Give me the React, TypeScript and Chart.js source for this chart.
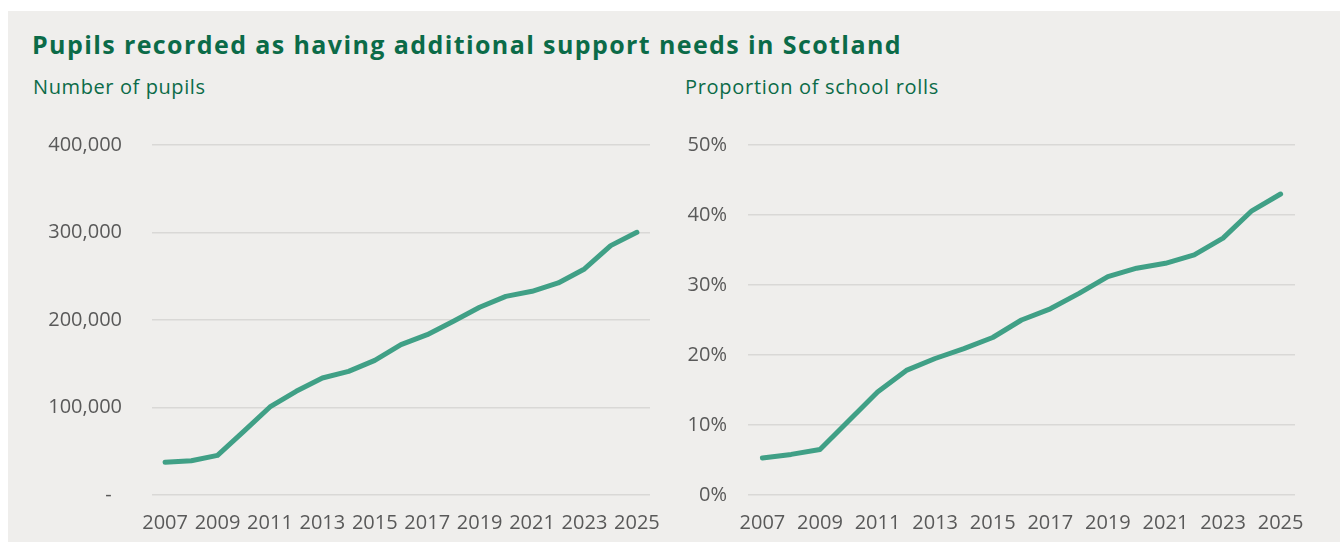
import React, { useEffect, useRef } from "react";
import { Chart, registerables } from "chart.js";
Chart.register(...registerables);

const years = ["2007","2008","2009","2010","2011","2012","2013","2014","2015","2016","2017","2018","2019","2020","2021","2022","2023","2024","2025"];
const pupils = [37300, 39200, 45300, 72800, 100600, 118500, 133700, 141300, 153900, 171800, 183200, 198500, 214500, 227000, 232800, 242300, 258300, 285000, 300200];
const proportion = [5.3, 5.8, 6.5, 10.6, 14.7, 17.8, 19.5, 20.9, 22.5, 25.0, 26.6, 28.8, 31.2, 32.4, 33.1, 34.3, 36.7, 40.6, 43.0];

const TITLE = "Pupils recorded as having additional support needs in Scotland";
const LEFT_SUB = "Number of pupils";
const RIGHT_SUB = "Proportion of school rolls";

const BG = "#efeeec";
const GREEN = "#0b6b48";
const LINE = "#40a086";
const GRID = "#d9d8d6";
const TICK = "#595959";
const FONT = "'Open Sans', sans-serif";

function makeConfig(data: number[], yMax: number, step: number, fmt: (v: number) => string, yWidth: number, yPad: number, padRight: number): any {
  return {
    type: "line",
    data: {
      labels: years,
      datasets: [{
        data,
        borderColor: LINE,
        borderWidth: 5,
        pointRadius: 0,
        tension: 0,
        borderCapStyle: "round",
        borderJoinStyle: "round",
      }],
    },
    options: {
      animation: false,
      responsive: false,
      maintainAspectRatio: false,
      layout: { padding: { left: 0, right: padRight, top: 25, bottom: 0 } },
      plugins: { legend: { display: false }, tooltip: { enabled: false }, title: { display: false } },
      scales: {
        x: {
          offset: true,
          grid: { display: false, drawTicks: false },
          border: { display: false },
          ticks: {
            color: TICK,
            font: { family: FONT, size: 20 },
            padding: 16,
            maxRotation: 0,
            autoSkip: true,
            autoSkipPadding: 4,
          },
          afterFit: (s: any) => { s.height = 47; s.paddingLeft = 0; s.paddingRight = 0; },
        },
        y: {
          min: 0,
          max: yMax,
          grid: { color: GRID, lineWidth: 1.5, drawTicks: false },
          border: { display: false },
          ticks: {
            stepSize: step,
            color: TICK,
            font: { family: FONT, size: 20 },
            padding: yPad,
            callback: (v: any) => fmt(Number(v)),
          },
          afterFit: (s: any) => { s.width = yWidth; s.paddingTop = 0; s.paddingBottom = 0; },
        },
      },
    },
  };
}

function ChartCanvas({ config, style, w, h }: { config: any; style: any; w: number; h: number }) {
  const ref = useRef<HTMLCanvasElement | null>(null);
  useEffect(() => {
    if (!ref.current) return;
    const c = new Chart(ref.current, config);
    return () => c.destroy();
  }, []);
  return <canvas ref={ref} width={w} height={h} style={{ position: "absolute", width: w, height: h, ...style }} />;
}

export default function App() {
  useEffect(() => {
    document.body.style.margin = "0";
    document.body.style.overflow = "hidden";
  }, []);
  const leftCfg = makeConfig(pupils, 400000, 100000, (v) => (v === 0 ? "-  " : v.toLocaleString("en-US")), 112, 30, 30);
  const rightCfg = makeConfig(proportion, 50, 10, (v) => v + "%", 68, 21, 45);
  return (
    <div style={{ position: "fixed", left: 0, top: 0, width: 1340, height: 542, background: "#fff", overflow: "hidden" }}>
      <div style={{ position: "absolute", left: 8, top: 11, width: 1332, height: 531, background: BG }} />
      <div style={{ position: "absolute", left: 32, top: 27, fontFamily: FONT, fontWeight: 700, fontSize: 25, letterSpacing: 1.4, color: GREEN, whiteSpace: "nowrap" }}>{TITLE}</div>
      <div style={{ position: "absolute", left: 33, top: 73, fontFamily: FONT, fontSize: 20, letterSpacing: 0.6, color: GREEN, whiteSpace: "nowrap" }}>{LEFT_SUB}</div>
      <div style={{ position: "absolute", left: 685, top: 73, fontFamily: FONT, fontSize: 20, letterSpacing: 0.7, color: GREEN, whiteSpace: "nowrap" }}>{RIGHT_SUB}</div>
      <ChartCanvas config={leftCfg} style={{ left: 40, top: 120 }} w={640} h={422} />
      <ChartCanvas config={rightCfg} style={{ left: 680, top: 120 }} w={660} h={422} />
    </div>
  );
}
